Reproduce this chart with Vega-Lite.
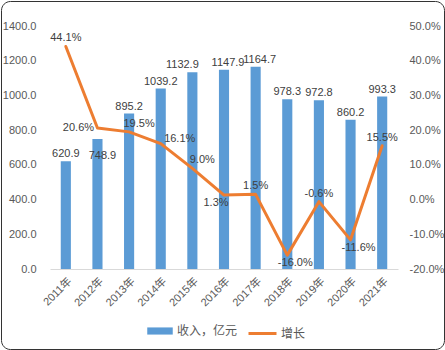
{
  "$schema": "https://vega.github.io/schema/vega-lite/v6.json",
  "width": 443,
  "height": 348,
  "autosize": {"type": "none"},
  "padding": {"left": 1, "top": 1, "right": 1, "bottom": 1},
  "background": "white",
  "config": {
    "font": "'Liberation Sans', 'Noto Sans CJK SC', sans-serif",
    "locale": {"number": {"decimal": ".", "thousands": ",", "grouping": [3], "currency": ["$", ""], "minus": "-", "percent": "%"}},
    "view": {"stroke": "#333333", "strokeWidth": 1, "cornerRadius": 9, "fill": "white"},
    "axis": {"labelFont": "'Liberation Sans', 'Noto Sans CJK SC', sans-serif", "labelFontSize": 11, "labelColor": "#595959", "grid": false, "ticks": false, "title": null},
    "legend": {"labelFont": "'Liberation Sans', 'Noto Sans CJK SC', sans-serif", "labelFontSize": 12, "labelColor": "#595959", "padding": 0, "title": null}
  },
  "data": {"values": [
    {"year": "2011年", "revenue": 620.9, "growth": 0.441},
    {"year": "2012年", "revenue": 748.9, "growth": 0.206},
    {"year": "2013年", "revenue": 895.2, "growth": 0.195},
    {"year": "2014年", "revenue": 1039.2, "growth": 0.161},
    {"year": "2015年", "revenue": 1132.9, "growth": 0.090},
    {"year": "2016年", "revenue": 1147.9, "growth": 0.013},
    {"year": "2017年", "revenue": 1164.7, "growth": 0.015},
    {"year": "2018年", "revenue": 978.3, "growth": -0.160},
    {"year": "2019年", "revenue": 972.8, "growth": -0.006},
    {"year": "2020年", "revenue": 860.2, "growth": -0.116},
    {"year": "2021年", "revenue": 993.3, "growth": 0.155}
  ]},
  "encoding": {
    "x": {
      "field": "year", "type": "nominal", "sort": null,
      "scale": {"range": [49, 397], "paddingInner": 0.68, "paddingOuter": 0.34},
      "axis": {"orient": "bottom", "offset": -80, "labelAngle": -45, "domainColor": "#D9D9D9", "domainWidth": 1, "labelPadding": 6}
    }
  },
  "layer": [
    {
      "encoding": {
        "y": {
          "field": "revenue", "type": "quantitative",
          "scale": {"domain": [0, 1400], "range": [268, 25], "nice": false, "zero": true},
          "axis": {"orient": "left", "offset": -49, "values": [0, 200, 400, 600, 800, 1000, 1200, 1400], "format": ".1f", "labelPadding": 14, "domain": false}
        }
      },
      "layer": [
        {
          "mark": {"type": "bar"},
          "encoding": {
            "fill": {
              "datum": "收入，亿元",
              "scale": {"range": ["#5B9BD5"]},
              "legend": {"orient": "none", "legendX": 146, "legendY": 317, "symbolType": "M-1,-0.28H1V0.28H-1Z", "symbolSize": 650, "symbolStrokeWidth": 0, "labelOffset": 4}
            }
          }
        },
        {
          "transform": [{"filter": "indexof(['2012年','2015年','2016年','2017年'], datum.year) < 0"}],
          "mark": {"type": "text", "baseline": "alphabetic", "dy": -4, "fontSize": 11, "color": "#404040"},
          "encoding": {"text": {"field": "revenue", "type": "quantitative", "format": ".1f"}}
        },
        {
          "transform": [{"filter": "datum.year == '2012年'"}],
          "mark": {"type": "text", "baseline": "alphabetic", "dx": 5, "dy": 20, "fontSize": 11, "color": "#404040"},
          "encoding": {"text": {"field": "revenue", "type": "quantitative", "format": ".1f"}}
        },
        {
          "transform": [{"filter": "datum.year == '2015年'"}],
          "mark": {"type": "text", "baseline": "alphabetic", "dx": -10, "dy": -4, "fontSize": 11, "color": "#404040"},
          "encoding": {"text": {"field": "revenue", "type": "quantitative", "format": ".1f"}}
        },
        {
          "transform": [{"filter": "datum.year == '2016年' || datum.year == '2017年'"}],
          "mark": {"type": "text", "baseline": "alphabetic", "dx": 4, "dy": -4, "fontSize": 11, "color": "#404040"},
          "encoding": {"text": {"field": "revenue", "type": "quantitative", "format": ".1f"}}
        }
      ]
    },
    {
      "encoding": {
        "y": {
          "field": "growth", "type": "quantitative",
          "scale": {"domain": [-0.2, 0.5], "range": [268, 25], "nice": false, "zero": false},
          "axis": {"orient": "right", "offset": -46, "values": [-0.2, -0.1, 0, 0.1, 0.2, 0.3, 0.4, 0.5], "format": ".1%", "labelPadding": 11, "domain": false}
        }
      },
      "layer": [
        {
          "mark": {"type": "line", "strokeWidth": 3, "strokeJoin": "round", "strokeCap": "round"},
          "encoding": {
            "stroke": {
              "datum": "增长",
              "scale": {"range": ["#ED7D31"]},
              "legend": {"orient": "none", "legendX": 246, "legendY": 317, "symbolType": "stroke", "symbolSize": 784, "symbolStrokeWidth": 3, "labelOffset": 3}
            }
          }
        },
        {
          "transform": [{"filter": "indexof(['2011年','2017年','2019年','2021年'], datum.year) >= 0"}],
          "mark": {"type": "text", "baseline": "middle", "dx": 0, "dy": -8, "fontSize": 11, "color": "#404040"},
          "encoding": {"text": {"field": "growth", "type": "quantitative", "format": ".1%"}}
        },
        {
          "transform": [{"filter": "datum.year == '2012年'"}],
          "mark": {"type": "text", "baseline": "middle", "dx": -19, "dy": 0, "fontSize": 11, "color": "#404040"},
          "encoding": {"text": {"field": "growth", "type": "quantitative", "format": ".1%"}}
        },
        {
          "transform": [{"filter": "datum.year == '2013年' || datum.year == '2015年'"}],
          "mark": {"type": "text", "baseline": "middle", "dx": 10, "dy": -8, "fontSize": 11, "color": "#404040"},
          "encoding": {"text": {"field": "growth", "type": "quantitative", "format": ".1%"}}
        },
        {
          "transform": [{"filter": "datum.year == '2014年'"}],
          "mark": {"type": "text", "baseline": "middle", "dx": 19, "dy": -5, "fontSize": 11, "color": "#404040"},
          "encoding": {"text": {"field": "growth", "type": "quantitative", "format": ".1%"}}
        },
        {
          "transform": [{"filter": "datum.year == '2016年'"}],
          "mark": {"type": "text", "baseline": "middle", "dx": -8, "dy": 8, "fontSize": 11, "color": "#404040"},
          "encoding": {"text": {"field": "growth", "type": "quantitative", "format": ".1%"}}
        },
        {
          "transform": [{"filter": "datum.year == '2018年' || datum.year == '2020年'"}],
          "mark": {"type": "text", "baseline": "middle", "dx": 8, "dy": 8, "fontSize": 11, "color": "#404040"},
          "encoding": {"text": {"field": "growth", "type": "quantitative", "format": ".1%"}}
        }
      ]
    }
  ],
  "resolve": {"scale": {"y": "independent"}}
}
